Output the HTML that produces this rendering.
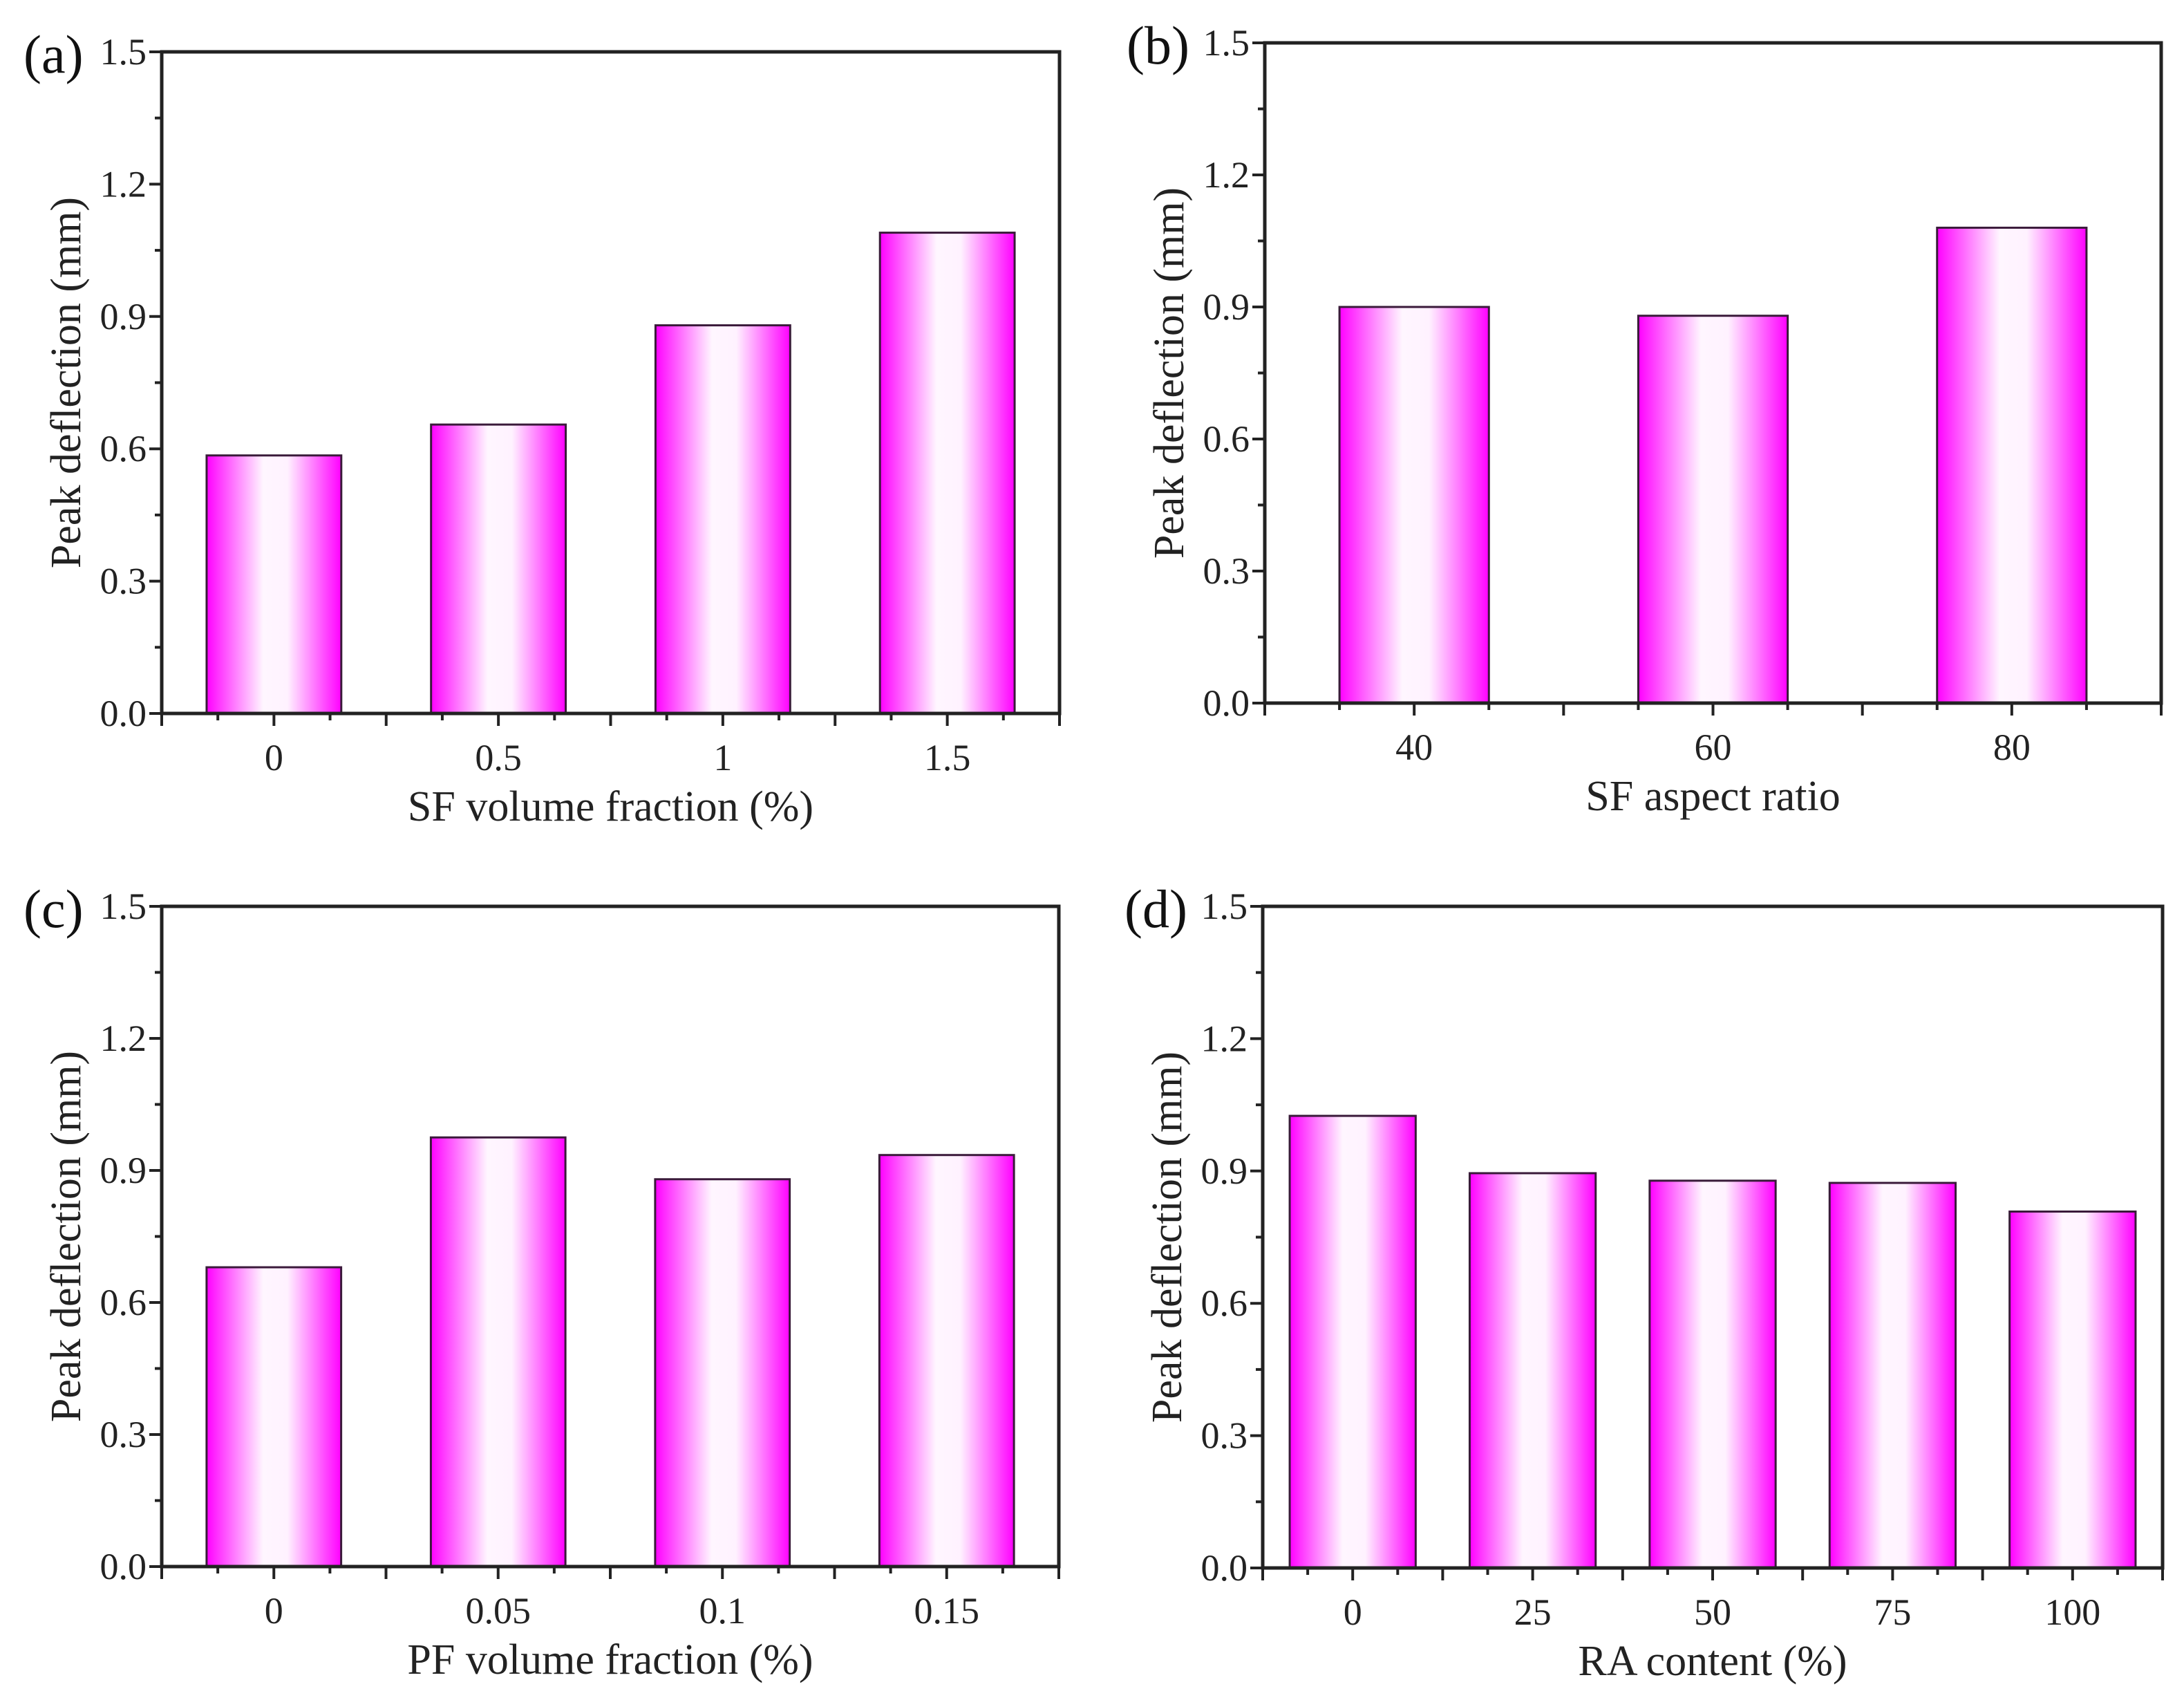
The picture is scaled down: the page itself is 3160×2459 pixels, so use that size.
<!DOCTYPE html>
<html><head><meta charset="utf-8"><style>
html,body{margin:0;padding:0;background:#fff;}
svg{display:block;font-family:"Liberation Serif",serif;}
</style></head><body>
<svg id="fig" width="3160" height="2459" viewBox="0 0 3160 2459" xmlns="http://www.w3.org/2000/svg">
<defs>
<linearGradient id="bg" x1="0" x2="1" y1="0" y2="0">
<stop offset="0" stop-color="#ff00ff"/><stop offset="0.08" stop-color="#ff30ff"/>
<stop offset="0.42" stop-color="#fff6ff"/><stop offset="0.6" stop-color="#fff2ff"/>
<stop offset="0.92" stop-color="#ff30ff"/><stop offset="1" stop-color="#ff00ff"/>
</linearGradient>
</defs>
</svg>
<script>
const catsA=["0","0.5","1","1.5"];
const valsA=[0.585,0.655,0.88,1.09];
const catsB=["40","60","80"];
const valsB=[0.90,0.88,1.08];
const catsC=["0","0.05","0.1","0.15"];
const valsC=[0.68,0.975,0.88,0.935];
const catsD=["0","25","50","75","100"];
const valsD=[1.025,0.895,0.878,0.873,0.808];
const yTicks=["0.0","0.3","0.6","0.9","1.2","1.5"];
const yMax=1.5;

const NS="http://www.w3.org/2000/svg";
const svg=document.getElementById('fig');
function mk(tag,attrs,parent,text){const e=document.createElementNS(NS,tag);for(const k in attrs)e.setAttribute(k,attrs[k]);if(text!==undefined)e.textContent=text;parent.appendChild(e);return e;}

function panel(id,label,xTitle,cats,vals,box,barFrac){
  const g=mk('g',{},svg);
  
  
  const {l,r,t,b}=box;
  const n=cats.length, cw=(r-l)/n;
  const xc=i=>l+cw*(i+0.5);
  const ys=v=>b-(v/yMax)*(b-t);
  vals.forEach((v,i)=>{
    const w=cw*barFrac;
    const rc=mk('rect',{x:xc(i)-w/2,y:ys(v),width:w,height:b-ys(v),fill:'url(#bg)',stroke:'#3a1a3a','stroke-width':3},g);
    
    
  });
  const fr=mk('rect',{x:l,y:t,width:r-l,height:b-t,fill:'none',stroke:'#222','stroke-width':5},g);
  
  
  yTicks.forEach((s,i)=>{
    const v=parseFloat(s), y=ys(v);
    mk('line',{x1:l-18,x2:l,y1:y,y2:y,stroke:'#222','stroke-width':4},g);
    if(v<yMax){const ym=ys(v+0.15);mk('line',{x1:l-10,x2:l,y1:ym,y2:ym,stroke:'#222','stroke-width':4},g);}
    const tx=mk('text',{x:l-22,y:y+18,'text-anchor':'end','font-size':54,fill:'#222'},g,s);
    
    
  });
  for(let k=0;k<=2*n;k++){
    const x=l+cw*k/2;
    mk('line',{x1:x,x2:x,y1:b,y2:b+18,stroke:'#222','stroke-width':4},g);
  }
  for(let k=0;k<2*n;k++){
    const x=l+cw*(k+0.5)/2;
    mk('line',{x1:x,x2:x,y1:b,y2:b+10,stroke:'#222','stroke-width':4},g);
  }
  cats.forEach((c,i)=>{
    const tx=mk('text',{x:xc(i),y:b+82,'text-anchor':'middle','font-size':54,fill:'#222'},g,c);
    
    
  });
  const xt=mk('text',{x:(l+r)/2,y:b+155,'text-anchor':'middle','font-size':62,fill:'#222'},g,xTitle);
  
  
  const yc=(t+b)/2, xx=l-118;
  const yt=mk('text',{x:xx,y:yc,'text-anchor':'middle','font-size':62,fill:'#222',transform:`rotate(-90 ${xx} ${yc})`},g,'Peak deflection (mm)');
  
  
  const pl=mk('text',{x:l-200,y:t+30,'font-size':78,fill:'#111'},g,label);
  
  
}
panel('a','(a)','SF volume fraction (%)',catsA,valsA,{l:234,r:1533,t:75,b:1032},0.6);
panel('b','(b)','SF aspect ratio',catsB,valsB,{l:1830,r:3127,t:62,b:1017},0.5);
panel('c','(c)','PF volume fraction (%)',catsC,valsC,{l:234,r:1532,t:1311,b:2266},0.6);
panel('d','(d)','RA content (%)',catsD,valsD,{l:1827,r:3129,t:1311,b:2268},0.7);
</script>
</body></html>
